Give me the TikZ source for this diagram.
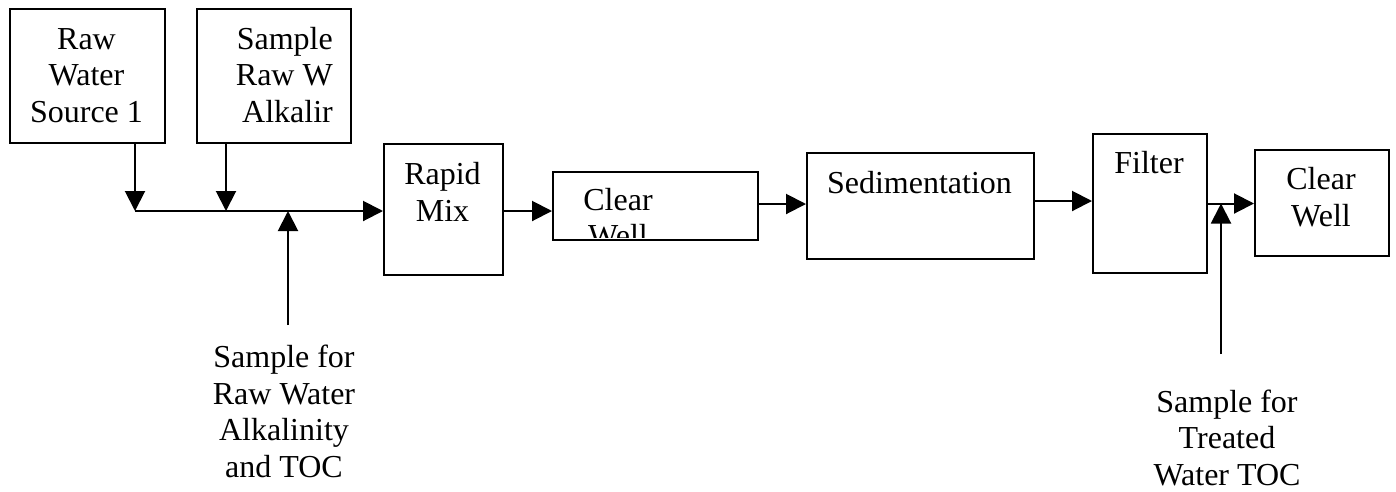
\documentclass[tikz,border=0pt]{standalone}
\usepackage{fontspec}
\setmainfont{Liberation Serif}
\usetikzlibrary{arrows.meta}
\begin{document}
\begin{tikzpicture}[x=1pt,y=-1pt,
  box/.style={draw,line width=2pt,inner sep=0pt,anchor=north west},
  lbl/.style={font=\fontsize{32}{36.5}\selectfont,align=center,inner sep=0pt,anchor=base},
  arr/.style={line width=2pt,-{Triangle[length=20pt,width=20pt]}}]
\useasboundingbox (0,0) rectangle (1396,491);
% boxes
\node[box,minimum width=155pt,minimum height=134pt] (box1) at (9,8) {};
\node[box,minimum width=154pt,minimum height=134pt] (box2) at (196,8) {};
\node[box,minimum width=119pt,minimum height=131pt] (mix) at (383,143) {};
\node[box,minimum width=205pt,minimum height=68pt] (clr1) at (552,171) {};
\node[box,minimum width=227pt,minimum height=106pt] (sed) at (806,152) {};
\node[box,minimum width=114pt,minimum height=139pt] (filt) at (1092,133) {};
\node[box,minimum width=134pt,minimum height=106pt] (clr2) at (1254,149) {};
% texts (base anchor = baseline of the last line)
\node[lbl] (t1) at (86.5,122) {Raw\\Water\\Source 1};
\node[lbl,align=right,anchor=base east] (t2) at (333,122) {Sample\\Raw W\\Alkalir};
\node[lbl] (tmix) at (442.5,221) {Rapid\\Mix};
\node[lbl] (tclr1) at (618,210) {Clear};
\begin{scope}
  \clip (553,172) rectangle (756,237);
  \node[lbl] (tclr1b) at (618,246.5) {Well};
\end{scope}
\node[lbl] (tsed) at (919.5,193) {Sedimentation};
\node[lbl] (tfilt) at (1149,173) {Filter};
\node[lbl] (tclr2) at (1321,226) {Clear\\Well};
\node[lbl] (ts1) at (284,477) {Sample for\\Raw Water\\Alkalinity\\and TOC};
\node[lbl] (ts2) at (1227,485) {Sample for\\Treated\\Water TOC};
% junctions
\coordinate (j1) at (135,211);
\coordinate (j2) at (226,211);
\coordinate (b1) at (288,325);
\coordinate (b2) at (1221,354);
% connectors
\draw[arr] (box1.south -| j1) -- (j1);
\draw[arr] (box2.south -| j2) -- (j2);
\draw[arr] (j1) -- (j1 -| mix.west);
\draw[arr] (b1) -- (b1 |- j1);
\draw[arr] (mix.east |- j1) -- (clr1.west |- j1);
\draw[arr] ([yshift=2pt]clr1.east) -- ([yshift=2pt]clr1.east -| sed.west);
\draw[arr] ([yshift=5pt]sed.east) -- ([yshift=5pt]sed.east -| filt.west);
\draw[arr] (filt.east) -- (filt.east -| clr2.west);
\draw[arr] (b2) -- (b2 |- filt.east);
\end{tikzpicture}
\end{document}
